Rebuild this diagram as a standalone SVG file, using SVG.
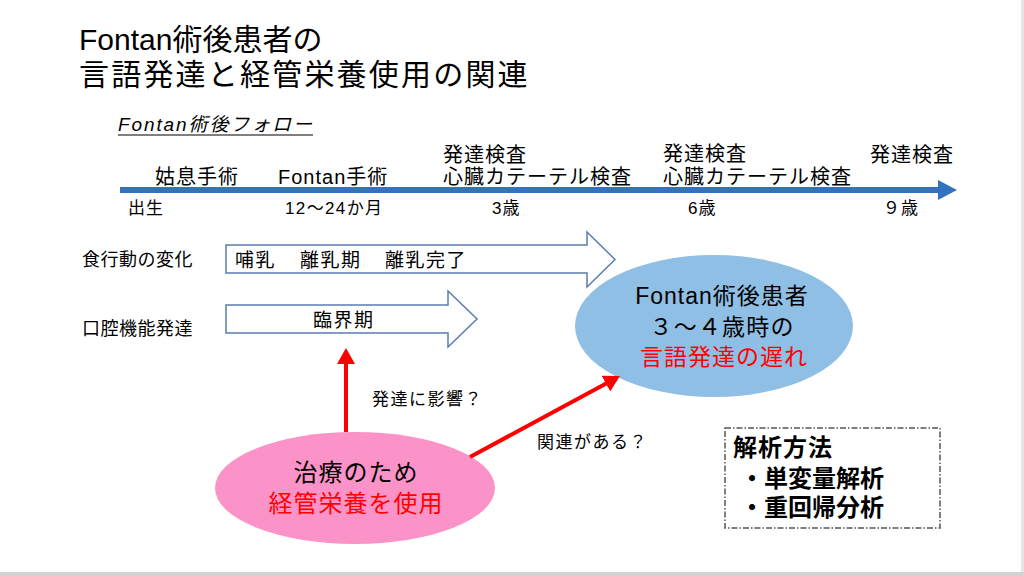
<svg xmlns="http://www.w3.org/2000/svg" width="1024" height="576" viewBox="0 0 1024 576">
<defs>
<style>
text{font-family:"Liberation Sans","Noto Sans CJK JP",sans-serif;fill:#000}
.title{font-size:30px}
.tl{font-size:20px;letter-spacing:1px}
.tls{font-size:17px;letter-spacing:1px}
.row{font-size:18px;letter-spacing:0.5px}
.inarrow{font-size:19px;letter-spacing:1.5px}
.ell{font-size:23px;letter-spacing:1px}
.pink{font-size:24px;letter-spacing:1px}
.lbl{font-size:17px;letter-spacing:1.5px}
.bold{font-size:24px;font-weight:bold}
.red{fill:#ff0000}
.block{fill:#ffffff;stroke:#5b7cae;stroke-width:1.5}
.redline{stroke:#ff0000;stroke-width:4;fill:none}
</style>
<marker id="redHead" viewBox="0 0 16 18" refX="4" refY="9" markerWidth="16" markerHeight="18" markerUnits="userSpaceOnUse" orient="auto">
<path d="M0,0 L16,9 L0,18 Z" fill="#ff0000"/>
</marker>
</defs>
<rect x="0" y="0" width="1024" height="576" fill="#ffffff"/>
<rect x="1021" y="0" width="3" height="576" fill="#e6e6e6"/>
<rect x="0" y="572" width="1024" height="4" fill="#d2d2d2"/>

<g id="title">
<text class="title" x="79" y="50">Fontan術後患者の</text>
<text class="title" x="79" y="85" letter-spacing="2.2">言語発達と経管栄養使用の関連</text>
</g>

<g id="subtitle">
<text x="118" y="131" font-size="19" font-style="italic" textLength="194" lengthAdjust="spacing">Fontan術後フォロー</text>
<line x1="118" y1="135" x2="313" y2="135" stroke="#000" stroke-width="1.2"/>
</g>

<g id="timeline">
<line x1="120" y1="190" x2="940" y2="190" stroke="#3472c0" stroke-width="6"/>
<polygon points="938,180 957,190 938,200" fill="#3472c0"/>
<text class="tl" x="155" y="184">姑息手術</text>
<text class="tl" x="278" y="184">Fontan手術</text>
<text class="tl" x="443" y="162">発達検査</text>
<text class="tl" x="443" y="184">心臓カテーテル検査</text>
<text class="tl" x="663" y="161">発達検査</text>
<text class="tl" x="663" y="184">心臓カテーテル検査</text>
<text class="tl" x="870" y="162">発達検査</text>
<text class="tls" x="128" y="214">出生</text>
<text class="tls" x="285" y="214" textLength="98" lengthAdjust="spacing">12〜24か月</text>
<text class="tls" x="492" y="214">3歳</text>
<text class="tls" x="688" y="214">6歳</text>
<text class="tls" x="883" y="214">９歳</text>
</g>

<g id="row-feeding">
<text class="row" x="82" y="266">食行動の変化</text>
<path class="block" d="M226,245 L587,245 L587,232 L615,259.5 L587,287 L587,273 L226,273 Z"/>
<text class="inarrow" x="235" y="267">哺乳</text>
<text class="inarrow" x="300" y="267">離乳期</text>
<text class="inarrow" x="385" y="267">離乳完了</text>
</g>

<g id="row-oral">
<text class="row" x="82" y="335">口腔機能発達</text>
<path class="block" d="M226,305 L448,305 L448,291 L477,319 L448,347 L448,333 L226,333 Z"/>
<text class="inarrow" x="313" y="327">臨界期</text>
</g>

<g id="outcome">
<ellipse cx="714" cy="326" rx="139" ry="71" fill="#8fbfe4"/>
<text class="ell" x="722" y="304" text-anchor="middle">Fontan術後患者</text>
<text class="ell" x="722" y="335" text-anchor="middle" textLength="145" lengthAdjust="spacing">３～４歳時の</text>
<text class="ell red" x="724" y="365" text-anchor="middle">言語発達の遅れ</text>
</g>

<g id="tube-feeding">
<ellipse cx="355" cy="488" rx="140" ry="56" fill="#fb93c8"/>
<text class="pink" x="356" y="481" text-anchor="middle">治療のため</text>
<text class="pink red" x="356" y="512" text-anchor="middle">経管栄養を使用</text>
</g>

<g id="connectors">
<line class="redline" x1="346" y1="432" x2="346" y2="360" marker-end="url(#redHead)"/>
<line class="redline" x1="470" y1="457" x2="609.4" y2="381.7" marker-end="url(#redHead)"/>
<text class="lbl" x="372" y="405">発達に影響？</text>
<text class="lbl" x="537" y="448">関連がある？</text>
</g>

<g id="analysis">
<rect x="725" y="428" width="215" height="100" fill="none" stroke="#555555" stroke-width="1.5" stroke-dasharray="6 2 1.5 2"/>
<text class="bold" x="733" y="456" letter-spacing="1">解析方法</text>
<text class="bold" x="740" y="487">・単変量解析</text>
<text class="bold" x="740" y="516">・重回帰分析</text>
</g>
</svg>
